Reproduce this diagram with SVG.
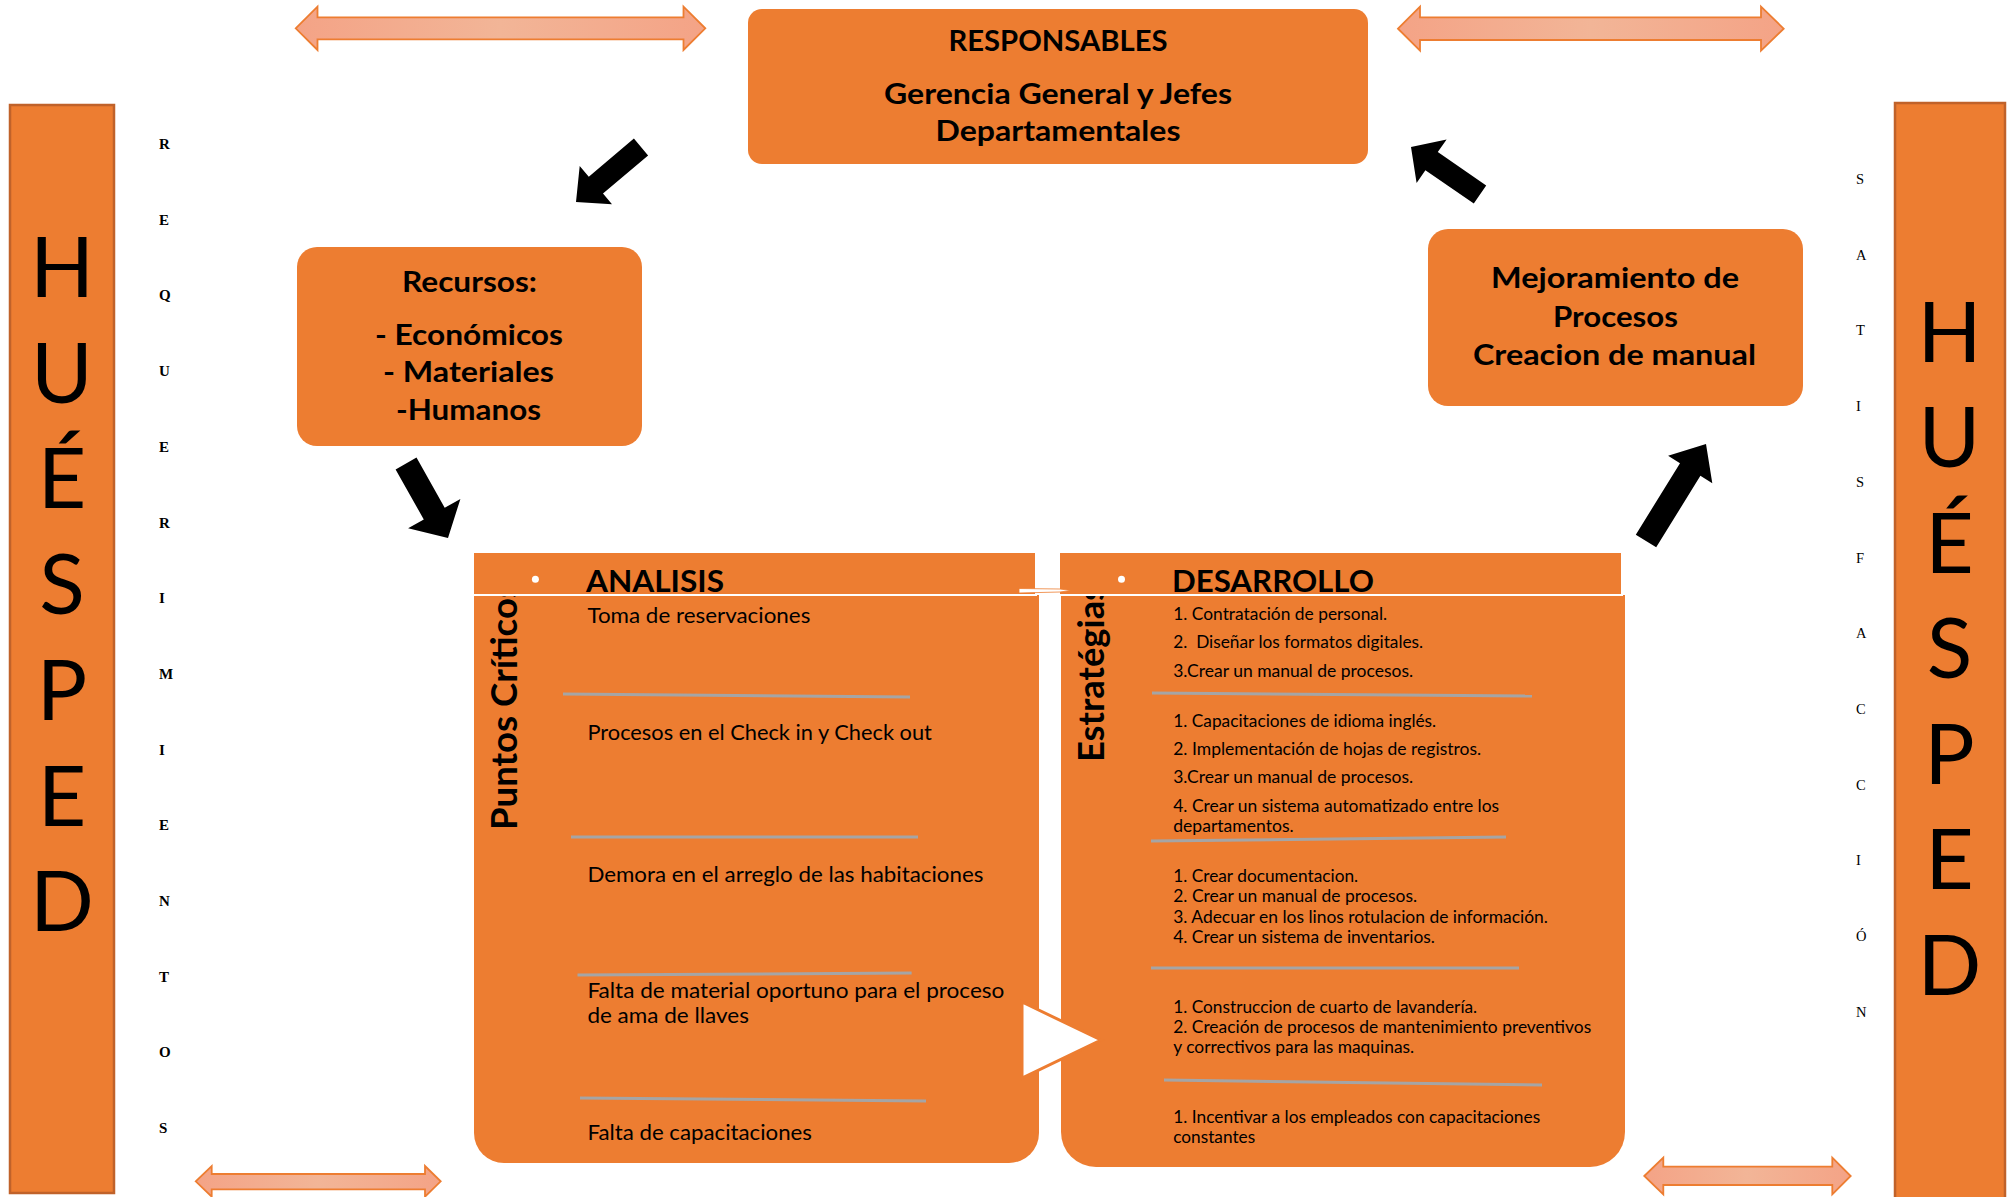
<svg xmlns="http://www.w3.org/2000/svg" width="2008" height="1197" viewBox="0 0 2008 1197">
  <defs>
    <linearGradient id="dblFill" x1="0" y1="0" x2="1" y2="0">
      <stop offset="0" stop-color="#F4A386"/>
      <stop offset="0.5" stop-color="#F2B597"/>
      <stop offset="1" stop-color="#F4A386"/>
    </linearGradient>
    <style>
      .box { fill: #ED7D31; }
      .bar { fill: #ED7D31; stroke: #C0622A; stroke-width: 2.5; }
      .title { font-family: Lato, "Open Sans", sans-serif; font-weight: 700; font-size: 28px; fill: #000; text-anchor: middle; }
      .head { font-family: Lato, "Open Sans", sans-serif; font-weight: 700; font-size: 31px; fill: #000; }
      .vert { font-family: Lato, "Open Sans", sans-serif; font-weight: 700; font-size: 36px; fill: #000; }
      .item { font-family: Lato, "Open Sans", sans-serif; font-size: 21px; fill: #000; }
      .step { font-family: Lato, "Open Sans", sans-serif; font-size: 16.5px; fill: #000; }
      .big { font-family: Lato, "Open Sans", sans-serif; font-size: 84px; fill: #000; text-anchor: middle; }
      .reqL { font-family: "Liberation Serif", serif; font-weight: 700; font-size: 15px; fill: #000; }
      .satL { font-family: "Liberation Serif", serif; font-size: 14.5px; fill: #000; }
      .sep { stroke: #A5A5A5; stroke-width: 3; fill: none; }
      .dbl { fill: url(#dblFill); stroke: #ED7D31; stroke-width: 1.8; }
      .blk { fill: #000; }
    </style>
  </defs>

  <rect width="2008" height="1197" fill="#fff"/>

  <!-- left guest column -->
  <g id="huesped-izq">
    <rect class="bar" x="10" y="105" width="104" height="1088"/>
    <text class="big" x="62" y="297">H</text>
    <text class="big" x="62" y="402.7">U</text>
    <text class="big" x="62" y="508.4">É</text>
    <text class="big" x="62" y="614">S</text>
    <text class="big" x="62" y="719.8">P</text>
    <text class="big" x="62" y="825.5">E</text>
    <text class="big" x="62" y="931.2">D</text>
  </g>

  <!-- vertical word REQUERIMIENTOS -->
  <g id="requerimientos">
    <text class="reqL" x="159" y="149">R</text>
    <text class="reqL" x="159" y="224.7">E</text>
    <text class="reqL" x="159" y="300.4">Q</text>
    <text class="reqL" x="159" y="376">U</text>
    <text class="reqL" x="159" y="451.8">E</text>
    <text class="reqL" x="159" y="527.5">R</text>
    <text class="reqL" x="159" y="603">I</text>
    <text class="reqL" x="159" y="679">M</text>
    <text class="reqL" x="159" y="754.6">I</text>
    <text class="reqL" x="159" y="830">E</text>
    <text class="reqL" x="159" y="906">N</text>
    <text class="reqL" x="159" y="981.7">T</text>
    <text class="reqL" x="159" y="1057.4">O</text>
    <text class="reqL" x="159" y="1133">S</text>
  </g>

  <!-- right guest column -->
  <g id="huesped-der">
    <rect class="bar" x="1895" y="103" width="110" height="1100"/>
    <text class="big" x="1949.5" y="361.5">H</text>
    <text class="big" x="1949.5" y="467">U</text>
    <text class="big" x="1949.5" y="572.5">É</text>
    <text class="big" x="1949.5" y="678">S</text>
    <text class="big" x="1949.5" y="783.5">P</text>
    <text class="big" x="1949.5" y="889">E</text>
    <text class="big" x="1949.5" y="994.5">D</text>
  </g>

  <!-- vertical word SATISFACCIÓN -->
  <g id="satisfaccion">
    <text class="satL" x="1856" y="184">S</text>
    <text class="satL" x="1856" y="259.7">A</text>
    <text class="satL" x="1856" y="335.4">T</text>
    <text class="satL" x="1856" y="411.1">I</text>
    <text class="satL" x="1856" y="486.8">S</text>
    <text class="satL" x="1856" y="562.5">F</text>
    <text class="satL" x="1856" y="638.2">A</text>
    <text class="satL" x="1856" y="713.9">C</text>
    <text class="satL" x="1856" y="789.6">C</text>
    <text class="satL" x="1856" y="865.3">I</text>
    <text class="satL" x="1856" y="941">Ó</text>
    <text class="satL" x="1856" y="1016.7">N</text>
  </g>

  <!-- top box -->
  <g id="responsables">
    <rect class="box" x="748" y="9" width="620" height="155" rx="14"/>
    <text class="title" x="1058" y="51" textLength="219" lengthAdjust="spacingAndGlyphs">RESPONSABLES</text>
    <text class="title" x="1058" y="104" textLength="348" lengthAdjust="spacingAndGlyphs">Gerencia General y Jefes</text>
    <text class="title" x="1058" y="141" textLength="245" lengthAdjust="spacingAndGlyphs">Departamentales</text>
  </g>

  <!-- resources box -->
  <g id="recursos">
    <rect class="box" x="297" y="247" width="345" height="199" rx="20"/>
    <text class="title" x="469.5" y="292" textLength="135" lengthAdjust="spacingAndGlyphs">Recursos:</text>
    <text class="title" x="469" y="345" textLength="188" lengthAdjust="spacingAndGlyphs">- Económicos</text>
    <text class="title" x="468.5" y="382" textLength="171" lengthAdjust="spacingAndGlyphs">- Materiales</text>
    <text class="title" x="468.5" y="420" textLength="145" lengthAdjust="spacingAndGlyphs">-Humanos</text>
  </g>

  <!-- improvement box -->
  <g id="mejoramiento">
    <rect class="box" x="1428" y="229" width="375" height="177" rx="20"/>
    <text class="title" x="1615" y="288" textLength="248" lengthAdjust="spacingAndGlyphs">Mejoramiento de</text>
    <text class="title" x="1615.5" y="327" textLength="125" lengthAdjust="spacingAndGlyphs">Procesos</text>
    <text class="title" x="1614.5" y="365" textLength="283" lengthAdjust="spacingAndGlyphs">Creacion de manual</text>
  </g>

  <!-- analysis panel -->
  <g id="analisis">
    <path class="box" d="M474,595 H1039 V1133 A30,30 0 0 1 1009,1163 H504 A30,30 0 0 1 474,1133 Z"/>
    <text class="vert" transform="translate(517,830) rotate(-90)" textLength="248" lengthAdjust="spacingAndGlyphs">Puntos Críticos</text>
    <rect class="box" x="473" y="552" width="563" height="43" stroke="#fff" stroke-width="2"/>
    <circle cx="535.4" cy="579.3" r="3.5" fill="#fff"/>
    <text class="head" x="586" y="592" textLength="138" lengthAdjust="spacingAndGlyphs">ANALISIS</text>
    <text class="item" x="587.4" y="623" textLength="223" lengthAdjust="spacingAndGlyphs">Toma de reservaciones</text>
    <line class="sep" x1="563" y1="694" x2="910" y2="697"/>
    <text class="item" x="587.4" y="740" textLength="344.5" lengthAdjust="spacingAndGlyphs">Procesos en el Check in y Check out</text>
    <line class="sep" x1="571" y1="837" x2="918" y2="837"/>
    <text class="item" x="587.4" y="882" textLength="396" lengthAdjust="spacingAndGlyphs">Demora en el arreglo de las habitaciones</text>
    <line class="sep" x1="577.5" y1="975" x2="911.6" y2="973"/>
    <text class="item" x="587.4" y="998" textLength="417" lengthAdjust="spacingAndGlyphs">Falta de material oportuno para el proceso</text>
    <text class="item" x="587.4" y="1023" textLength="161.5" lengthAdjust="spacingAndGlyphs">de ama de llaves</text>
    <line class="sep" x1="580" y1="1098" x2="926" y2="1101"/>
    <text class="item" x="587.4" y="1140" textLength="224.6" lengthAdjust="spacingAndGlyphs">Falta de capacitaciones</text>
  </g>

  <!-- development panel -->
  <g id="desarrollo">
    <path class="box" d="M1061,595 H1625 V1132 A35,35 0 0 1 1590,1167 H1096 A35,35 0 0 1 1061,1132 Z"/>
    <text class="vert" transform="translate(1104,762) rotate(-90)" textLength="177" lengthAdjust="spacingAndGlyphs">Estratégias</text>
    <rect class="box" x="1059" y="552" width="563" height="43" stroke="#fff" stroke-width="2"/>
    <circle cx="1121.5" cy="579.3" r="3.5" fill="#fff"/>
    <text class="head" x="1172" y="592" textLength="202" lengthAdjust="spacingAndGlyphs">DESARROLLO</text>
    <text class="step" x="1173.2" y="620" textLength="214" lengthAdjust="spacingAndGlyphs">1. Contratación de personal.</text>
    <text class="step" x="1173.2" y="648" textLength="250" lengthAdjust="spacingAndGlyphs" xml:space="preserve">2.  Diseñar los formatos digitales.</text>
    <text class="step" x="1173.2" y="677" textLength="240" lengthAdjust="spacingAndGlyphs">3.Crear un manual de procesos.</text>
    <line class="sep" x1="1152" y1="693" x2="1532" y2="696"/>
    <text class="step" x="1173.2" y="727" textLength="263" lengthAdjust="spacingAndGlyphs">1. Capacitaciones de idioma inglés.</text>
    <text class="step" x="1173.2" y="755" textLength="308" lengthAdjust="spacingAndGlyphs">2. Implementación de hojas de registros.</text>
    <text class="step" x="1173.2" y="783" textLength="240" lengthAdjust="spacingAndGlyphs">3.Crear un manual de procesos.</text>
    <text class="step" x="1173.2" y="812" textLength="326" lengthAdjust="spacingAndGlyphs">4. Crear un sistema automatizado entre los</text>
    <text class="step" x="1173.2" y="832" textLength="120.5" lengthAdjust="spacingAndGlyphs">departamentos.</text>
    <line class="sep" x1="1151" y1="841" x2="1506" y2="837"/>
    <text class="step" x="1173.2" y="882" textLength="185" lengthAdjust="spacingAndGlyphs">1. Crear documentacion.</text>
    <text class="step" x="1173.2" y="902" textLength="244" lengthAdjust="spacingAndGlyphs">2. Crear un manual de procesos.</text>
    <text class="step" x="1173.2" y="923" textLength="374.7" lengthAdjust="spacingAndGlyphs">3. Adecuar en los linos rotulacion de información.</text>
    <text class="step" x="1173.2" y="943" textLength="261.8" lengthAdjust="spacingAndGlyphs">4. Crear un sistema de inventarios.</text>
    <line class="sep" x1="1151" y1="968" x2="1519" y2="968"/>
    <text class="step" x="1173.2" y="1013" textLength="304" lengthAdjust="spacingAndGlyphs">1. Construccion de cuarto de lavandería.</text>
    <text class="step" x="1173.2" y="1033" textLength="418" lengthAdjust="spacingAndGlyphs">2. Creación de procesos de mantenimiento preventivos</text>
    <text class="step" x="1173.2" y="1053" textLength="241" lengthAdjust="spacingAndGlyphs">y correctivos para las maquinas.</text>
    <line class="sep" x1="1164" y1="1080" x2="1542" y2="1085"/>
    <text class="step" x="1173.2" y="1123" textLength="367" lengthAdjust="spacingAndGlyphs">1. Incentivar a los empleados con capacitaciones</text>
    <text class="step" x="1173.2" y="1143" textLength="82" lengthAdjust="spacingAndGlyphs">constantes</text>
  </g>

  <!-- connectors -->
  <g id="connectors">
    <!-- block arrows of the cycle -->
    <polygon class="blk" points="633.9,138.6 588.8,176.8 579.7,166.1 576,202 612,204.3 603,193.6 648.1,155.4"/>
    <polygon class="blk" points="395.6,469.4 423.8,519.5 408.1,528.3 448,538 460.4,498.9 444.7,507.7 416.5,457.6"/>
    <polygon class="blk" points="1486.2,185.4 1437.8,152.1 1446.6,139.4 1411,147 1416.6,183 1425.4,170.2 1473.8,203.6"/>
    <polygon class="blk" points="1656.2,547.3 1700.4,475.8 1712.3,483.2 1706,444 1668.1,455.8 1680,463.2 1635.8,534.7"/>

    <!-- link between the two panel headers -->
    <polygon points="1019,588.5 1060,589 1071,590.5 1060,592 1019,593" fill="#fff" stroke="#ED7D31" stroke-width="0.8"/>

    <!-- pointer from analysis to development -->
    <polygon points="1022,1002 1101,1040 1022,1078" fill="#fff" stroke="#ED7D31" stroke-width="3" stroke-linejoin="miter"/>

    <!-- double-headed arrows -->
    <path class="dbl" d="M295.7,28.3 L317.5,6.6 V17.3 H683.5 V6.6 L705.3,28.3 L683.5,50 V39.3 H317.5 V50 Z"/>
    <path class="dbl" d="M1398,28.7 L1420,6.7 V17.3 H1761 V6.7 L1783.7,28.7 L1761,50.7 V40 H1420 V50.7 Z"/>
    <path class="dbl" d="M195.7,1181.3 L211.7,1166 V1174 H425 V1166 L440.7,1181.3 L425,1196.7 V1189.3 H211.7 V1196.7 Z"/>
    <path class="dbl" d="M1644.3,1176 L1663.3,1157.7 V1166.7 H1832.3 V1157.7 L1850.7,1176 L1832.3,1194.3 V1185 H1663.3 V1194.3 Z"/>
  </g>
</svg>
